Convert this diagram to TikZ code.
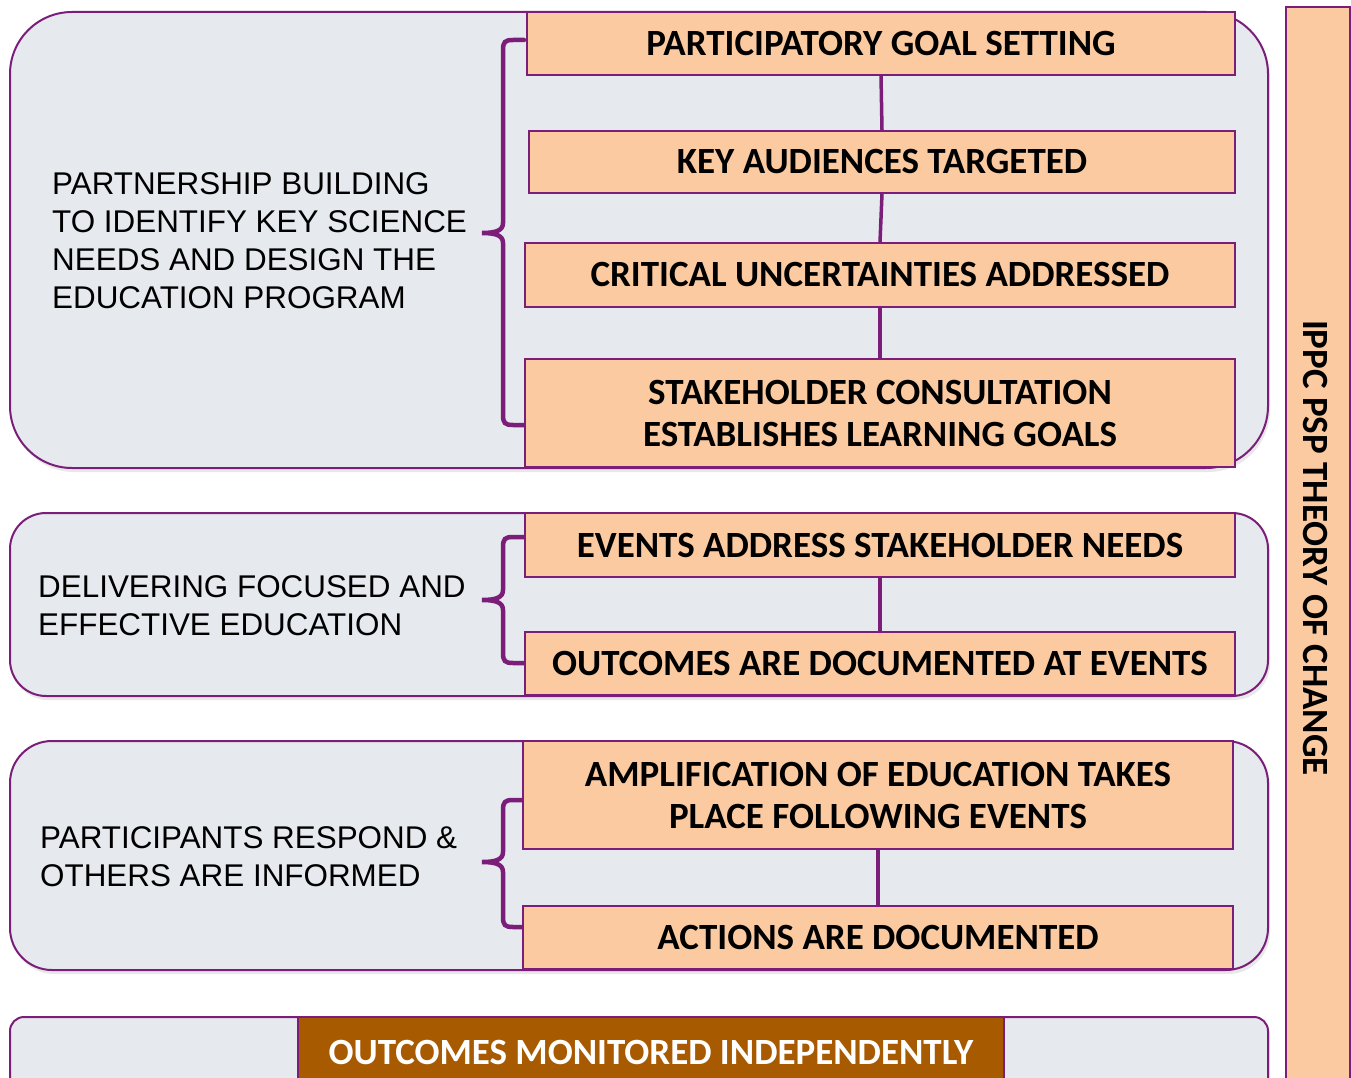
\documentclass[tikz,border=0pt]{standalone}
\usepackage{fontspec}
\setmainfont{Carlito}
\newfontfamily\arialf{Liberation Sans}
\usetikzlibrary{shadows}
\definecolor{pbord}{HTML}{7B1E7A}
\definecolor{peach}{HTML}{FBCAA0}
\definecolor{grp}{HTML}{E6E9EE}
\definecolor{brownbox}{HTML}{A85A00}
\tikzset{
  grpbox/.style={draw=pbord, line width=2pt, fill=grp, inner sep=0pt,
    drop shadow={opacity=0.18, shadow xshift=2pt, shadow yshift=-4pt}},
  stepbox/.style={draw=pbord, line width=1.5pt, fill=peach, inner sep=0pt, align=center,
    font=\fontsize{37}{42}\selectfont\bfseries},
  link/.style={draw=pbord, line width=3.5pt},
  bracket/.style={draw=pbord, line width=4.5pt, line cap=round},
  lefttext/.style={anchor=west, align=left, inner sep=0pt, text=black,
    font=\arialf\fontsize{31.4}{38}\selectfont},
}
\newcommand\mybrace[3]{%
  \draw[bracket] (524,#1) -- (513,#1) .. controls (505,#1) and (503,#1+2) .. (503,#1+10)
    -- (503,#2-10) .. controls (503,#2-3) and (497,#2) .. (482,#2)
    .. controls (497,#2) and (503,#2+3) .. (503,#2+10)
    -- (503,#3-10) .. controls (503,#3-2) and (505,#3) .. (513,#3) -- (524,#3);}
\begin{document}
\begin{tikzpicture}[x=1pt,y=-1pt]
\useasboundingbox (0,0) rectangle (1351,1078);
\clip (0,0) rectangle (1351,1078);
\fill[white] (0,0) rectangle (1351,1078);

% containers
\node[grpbox, rounded corners=62pt, minimum width=1258, minimum height=456] (g1) at (639,240) {};
\node[grpbox, rounded corners=36pt, minimum width=1258, minimum height=183] (g2) at (639,604.5) {};
\node[grpbox, rounded corners=42pt, minimum width=1258, minimum height=229] (g3) at (639,855.5) {};
\node[grpbox, rounded corners=14pt, minimum width=1258, minimum height=120] (g4) at (639,1077) {};

% left texts
\node[lefttext] (t1) at (52,241) {PARTNERSHIP BUILDING\\TO IDENTIFY KEY SCIENCE\\NEEDS AND DESIGN THE\\EDUCATION PROGRAM};
\node[lefttext] (t2) at (38,606) {DELIVERING FOCUSED AND\\EFFECTIVE EDUCATION};
\node[lefttext] (t3) at (40,857) {PARTICIPANTS RESPOND \&\\OTHERS ARE INFORMED};

% braces
\mybrace{40}{233}{425}
\mybrace{537}{600}{663}
\mybrace{800}{862}{927}

% step boxes
\node[stepbox, minimum width=708, minimum height=63] (pgs) at (881,43.5) {PARTICIPATORY GOAL SETTING};
\node[stepbox, minimum width=706, minimum height=62] (kat) at (882,162) {KEY AUDIENCES TARGETED};
\node[stepbox, minimum width=710, minimum height=64] (cua) at (880,275) {CRITICAL UNCERTAINTIES ADDRESSED};
\node[stepbox, minimum width=710, minimum height=108] (sc) at (880,413) {STAKEHOLDER CONSULTATION\\ESTABLISHES LEARNING GOALS};
\node[stepbox, minimum width=710, minimum height=64] (easn) at (880,545) {EVENTS ADDRESS STAKEHOLDER NEEDS};
\node[stepbox, minimum width=710, minimum height=63] (oad) at (880,663.5) {OUTCOMES ARE DOCUMENTED AT EVENTS};
\node[stepbox, minimum width=710, minimum height=108] (amp) at (878,795) {AMPLIFICATION OF EDUCATION TAKES\\PLACE FOLLOWING EVENTS};
\node[stepbox, minimum width=710, minimum height=63] (act) at (878,937.5) {ACTIONS ARE DOCUMENTED};
\node[stepbox, fill=brownbox, text=white, minimum width=706, minimum height=70] (mon) at (651,1052) {OUTCOMES MONITORED INDEPENDENTLY};

% connectors
\draw[link] (pgs.south) -- (kat.north);
\draw[link] (kat.south) -- (cua.north);
\draw[link] (cua.south) -- (sc.north);
\draw[link] (easn.south) -- (oad.north);
\draw[link] (amp.south) -- (act.north);

% right bar
\node[draw=pbord, line width=1.5pt, fill=peach, minimum width=64, minimum height=1093, inner sep=0pt] (bar) at (1318,553.5) {};
\node[rotate=-90, inner sep=0pt, font=\fontsize{37}{42}\selectfont\bfseries] (bartxt) at (1315,548) {IPPC PSP THEORY OF CHANGE};
\end{tikzpicture}
\end{document}
